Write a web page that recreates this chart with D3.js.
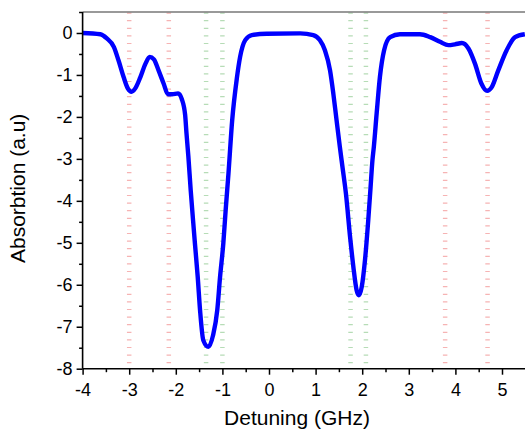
<!DOCTYPE html>
<html><head><meta charset="utf-8">
<script src="https://cdn.jsdelivr.net/npm/d3@7"></script>
<style>
html,body{margin:0;padding:0;background:#fff;}
svg{display:block;font-family:"Liberation Sans",Arial,sans-serif;}
</style></head>
<body>
<script>
// Detuning (GHz)
const detuning = [-4.0,-3.62,-3.48,-3.33,-3.23,-3.12,-3.03,-2.95,-2.87,-2.76,-2.65,-2.56,-2.47,-2.37,-2.26,-2.17,-2.08,-1.95,-1.87,-1.80,-1.77,-1.73,-1.68,-1.63,-1.59,-1.53,-1.48,-1.41,-1.30,-1.20,-1.11,-1.05,-0.98,-0.93,-0.87,-0.79,-0.69,-0.62,-0.51,-0.37,-0.05,0.67,0.95,1.09,1.20,1.31,1.38,1.45,1.52,1.58,1.65,1.74,1.81,1.88,1.93,1.99,2.06,2.13,2.18,2.22,2.25,2.31,2.38,2.47,2.60,2.81,3.24,3.46,3.67,3.85,3.99,4.14,4.28,4.42,4.56,4.68,4.78,4.92,5.10,5.28,5.49];
// Absorption (a.u)
const absorption = [0,-0.03,-0.13,-0.33,-0.65,-1.05,-1.32,-1.40,-1.32,-1.05,-0.73,-0.57,-0.63,-0.89,-1.21,-1.46,-1.46,-1.44,-1.58,-1.95,-2.40,-2.95,-3.75,-4.46,-5.01,-5.81,-6.60,-7.32,-7.48,-7.20,-6.60,-5.81,-5.01,-4.22,-3.35,-2.08,-1.08,-0.57,-0.17,-0.05,-0.02,-0.01,-0.05,-0.17,-0.41,-0.89,-1.44,-2.08,-2.71,-3.22,-3.82,-4.86,-5.57,-6.13,-6.25,-6.05,-5.41,-4.46,-3.67,-3.03,-2.71,-1.92,-1.05,-0.41,-0.10,-0.03,-0.03,-0.10,-0.21,-0.29,-0.27,-0.24,-0.37,-0.73,-1.21,-1.38,-1.29,-0.89,-0.41,-0.10,-0.03];
// reference transition lines
const redLines = [-3.0,-2.15,3.78,4.69];
const greenLines = [-1.35,-1.0,1.75,2.08];
const xTicks = [-4,-3,-2,-1,0,1,2,3,4,5];
const yTicks = [0,-1,-2,-3,-4,-5,-6,-7,-8];

const W=525,H=432;
const L=82.6,R=525.3,T=12,B=368.7;
const x=d3.scaleLinear().domain([-4,5.5]).range([L,R]);
const y=d3.scaleLinear().domain([-8,0.5]).range([B,T]);

const svg=d3.select("body").append("svg").attr("width",W).attr("height",H);

svg.append("defs").append("clipPath").attr("id","clip")
  .append("rect").attr("x",L).attr("y",T).attr("width",W-L).attr("height",B-T);

// vertical reference lines
const refG=svg.append("g");
refG.selectAll("line.r").data(redLines).join("line")
  .attr("x1",d=>x(d)).attr("x2",d=>x(d)).attr("y1",T+0.5).attr("y2",B)
  .attr("stroke","#f6b3b3").attr("stroke-width",4.5).attr("stroke-dasharray","1.2,6.4");
refG.selectAll("line.g").data(greenLines).join("line")
  .attr("x1",d=>x(d)).attr("x2",d=>x(d)).attr("y1",T+0.5).attr("y2",B)
  .attr("stroke","#b6dcb6").attr("stroke-width",4.5).attr("stroke-dasharray","1.2,6.4");

// top border
svg.append("line").attr("x1",L).attr("x2",W).attr("y1",T).attr("y2",T)
  .attr("stroke","#777").attr("stroke-width",1.5);

// curve
const pts=detuning.map((d,i)=>[d,absorption[i]]);
svg.append("path").datum(pts)
  .attr("clip-path","url(#clip)")
  .attr("fill","none").attr("stroke","#0000ff").attr("stroke-width",4.4)
  .attr("stroke-linejoin","round")
  .attr("d",d3.line().x(d=>x(d[0])).y(d=>y(d[1])).curve(d3.curveMonotoneX));

// axes
const fmt=d=>String(d);
const xMinor=d3.range(-3.5,5.6,1);
const yMinor=d3.range(-7.5,0.6,1);
const xAxis=svg.append("g").attr("transform",`translate(0,${B})`)
  .call(d3.axisBottom(x).tickValues(xTicks).tickSize(6).tickSizeOuter(0).tickPadding(9).tickFormat(fmt));
const xMin=svg.append("g").attr("transform",`translate(0,${B})`)
  .call(d3.axisBottom(x).tickValues(xMinor).tickSize(3.5).tickSizeOuter(0).tickFormat(""));
xMin.select(".domain").remove();
const yAxis=svg.append("g").attr("transform",`translate(${L},0)`)
  .call(d3.axisLeft(y).tickValues(yTicks).tickSize(6).tickSizeOuter(0).tickPadding(4).tickFormat(fmt));
const yMin=svg.append("g").attr("transform",`translate(${L},0)`)
  .call(d3.axisLeft(y).tickValues(yMinor).tickSize(3.5).tickSizeOuter(0).tickFormat(""));
yMin.select(".domain").remove();
svg.selectAll(".domain").attr("stroke","#000").attr("stroke-width",1.6);
svg.selectAll(".tick line").attr("stroke","#000").attr("stroke-width",1.5);
svg.selectAll(".tick text").attr("font-size",18).attr("fill","#000")
  .attr("font-family","'Liberation Sans',Arial,sans-serif");
xAxis.select(".domain").attr("d",`M${L},0H${W}`);
yAxis.select(".domain").attr("d",`M0,${T}V${B}`);

// titles
svg.append("text").attr("x",297).attr("y",425).attr("text-anchor","middle")
  .attr("font-size",21).text("Detuning (GHz)");
svg.append("text").attr("transform",`translate(25,${(T+B)/2-2}) rotate(-90)`).attr("text-anchor","middle")
  .attr("font-size",21).text("Absorbtion (a.u)");
</script>
</body></html>
